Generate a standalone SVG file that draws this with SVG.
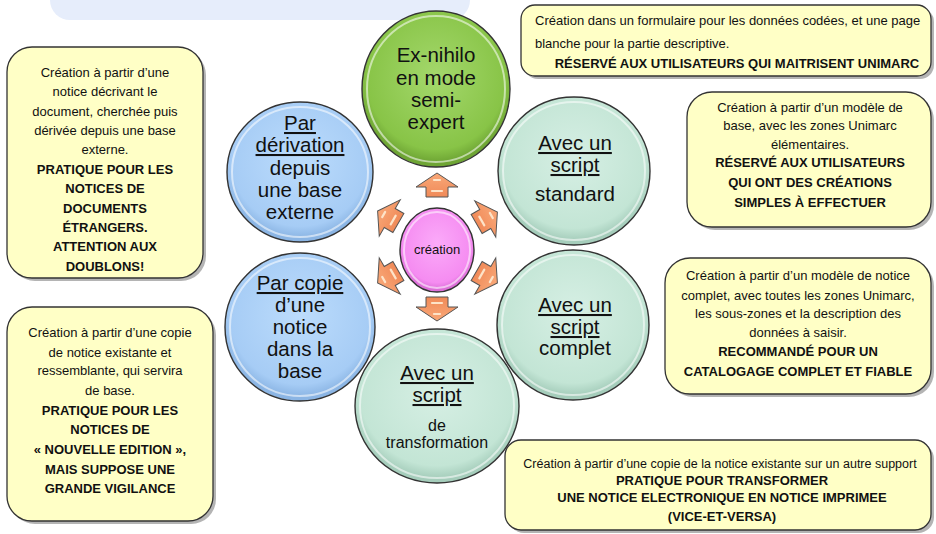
<svg xmlns="http://www.w3.org/2000/svg" width="936" height="534" viewBox="0 0 936 534">
<style>
.ct{font-family:"Liberation Sans",Arial,sans-serif;font-size:20.5px;fill:#111;text-anchor:middle}
.cs{font-size:16px}
.u{text-decoration:underline}
.bt{font-family:"Liberation Sans",Arial,sans-serif;font-size:13px;fill:#111;text-anchor:middle}
.b{font-weight:bold}
.box{fill:#ffffc6;stroke:#333;stroke-width:1.3}
.sh{fill:#777;opacity:0.55}
.circ{stroke:#333;stroke-width:1.4}
.rim{fill:none;stroke:#fff;stroke-opacity:0.55;stroke-width:2}
.arr{fill:url(#gOr);stroke:#555;stroke-width:1}
.hl{fill:none;stroke:#fde3c8;stroke-width:2.2;stroke-linecap:round}
</style>
<defs>
<radialGradient id="gGreen" cx="50%" cy="42%" r="55%"><stop offset="0" stop-color="#a4d86c"/><stop offset="0.85" stop-color="#88c447"/><stop offset="1" stop-color="#6ea534"/></radialGradient>
<radialGradient id="gBlue" cx="50%" cy="42%" r="55%"><stop offset="0" stop-color="#bcdcfc"/><stop offset="0.85" stop-color="#a6ccf5"/><stop offset="1" stop-color="#8bb5e4"/></radialGradient>
<radialGradient id="gTeal" cx="50%" cy="42%" r="55%"><stop offset="0" stop-color="#d6efe4"/><stop offset="0.85" stop-color="#c3e5d5"/><stop offset="1" stop-color="#a5cdbb"/></radialGradient>
<radialGradient id="gPink" cx="50%" cy="42%" r="55%"><stop offset="0" stop-color="#fbaaf9"/><stop offset="0.85" stop-color="#f58cf1"/><stop offset="1" stop-color="#dc6fd8"/></radialGradient>
<linearGradient id="gOr" x1="0" y1="0" x2="0" y2="1"><stop offset="0" stop-color="#f9a878"/><stop offset="1" stop-color="#f08a58"/></linearGradient>
<g id="arrowShape">
<path class="arr" d="M0,-12 L21,2 L11,2 L11,12 L-11,12 L-11,2 L-21,2 Z"/>
<path class="hl" d="M-5,6 L5,6 M-3,-5 L3,-5"/>
</g>
</defs>

<rect x="50" y="-30" width="420" height="50" rx="20" fill="#e6edfb"/>

<g id="node-derivation">
<ellipse class="circ" cx="300" cy="172" rx="73" ry="70" fill="url(#gBlue)"/>
<ellipse class="rim" cx="300" cy="172" rx="68" ry="65"/>
<text class="ct"><tspan class="u" x="300" y="130">Par</tspan><tspan class="u" x="300" y="152">dérivation</tspan><tspan x="300" y="175">depuis</tspan><tspan x="300" y="197">une base</tspan><tspan x="300" y="219">externe</tspan></text>
</g>
<g id="node-copie">
<ellipse class="circ" cx="300" cy="327" rx="75" ry="74" fill="url(#gBlue)"/>
<ellipse class="rim" cx="300" cy="327" rx="70" ry="69"/>
<text class="ct"><tspan class="u" x="300" y="290">Par copie</tspan><tspan x="300" y="312">d’une</tspan><tspan x="300" y="334">notice</tspan><tspan x="300" y="356">dans la</tspan><tspan x="300" y="378">base</tspan></text>
</g>
<g id="node-exnihilo">
<ellipse class="circ" cx="436" cy="89" rx="74" ry="78" fill="url(#gGreen)"/>
<ellipse class="rim" cx="436" cy="89" rx="69" ry="73"/>
<text class="ct"><tspan x="436" y="62">Ex-nihilo</tspan><tspan x="436" y="85">en mode</tspan><tspan x="436" y="107">semi-</tspan><tspan x="436" y="129">expert</tspan></text>
</g>
<g id="node-standard">
<ellipse class="circ" cx="574" cy="171" rx="76" ry="74" fill="url(#gTeal)"/>
<ellipse class="rim" cx="574" cy="171" rx="71" ry="69"/>
<text class="ct"><tspan class="u" x="575" y="150">Avec un</tspan><tspan class="u" x="575" y="172">script</tspan><tspan x="575" y="201">standard</tspan></text>
</g>
<g id="node-complet">
<ellipse class="circ" cx="573" cy="325" rx="76" ry="75" fill="url(#gTeal)"/>
<ellipse class="rim" cx="573" cy="325" rx="71" ry="70"/>
<text class="ct"><tspan class="u" x="575" y="312">Avec un</tspan><tspan class="u" x="575" y="334">script</tspan><tspan x="575" y="355">complet</tspan></text>
</g>
<g id="node-transformation">
<ellipse class="circ" cx="437" cy="406" rx="82" ry="77" fill="url(#gTeal)"/>
<ellipse class="rim" cx="437" cy="406" rx="77" ry="72"/>
<text class="ct"><tspan class="u" x="437" y="380">Avec un</tspan><tspan class="u" x="437" y="402">script</tspan><tspan class="cs" x="437" y="431">de</tspan><tspan class="cs" x="437" y="448">transformation</tspan></text>
</g>
<g id="node-creation">
<ellipse class="circ" cx="437" cy="250" rx="37" ry="42" fill="url(#gPink)"/>
<ellipse class="rim" cx="437" cy="250" rx="33" ry="38"/>
<text class="ct" style="font-size:13px" x="437" y="254">création</text>
</g>

<g id="connectors">
<use href="#arrowShape" transform="translate(437,185)"/>
<use href="#arrowShape" transform="translate(437,309) rotate(180)"/>
<use href="#arrowShape" transform="translate(388,217) rotate(-60)"/>
<use href="#arrowShape" transform="translate(487,218) rotate(60)"/>
<use href="#arrowShape" transform="translate(388,277) rotate(-120)"/>
<use href="#arrowShape" transform="translate(487,277) rotate(120)"/>
</g>

<g id="box-derivation">
<rect class="sh" x="10" y="50" width="196" height="231" rx="25"/>
<rect class="box" x="7" y="47" width="196" height="231" rx="25"/>
<text class="bt"><tspan x="105" y="77">Création à partir d’une</tspan><tspan x="105" y="96">notice décrivant le</tspan><tspan x="105" y="116">document, cherchée puis</tspan><tspan x="105" y="135">dérivée depuis une base</tspan><tspan x="105" y="154">externe.</tspan><tspan class="b" x="105" y="174">PRATIQUE POUR LES</tspan><tspan class="b" x="105" y="193">NOTICES DE</tspan><tspan class="b" x="105" y="213">DOCUMENTS</tspan><tspan class="b" x="105" y="232">ÉTRANGERS.</tspan><tspan class="b" x="105" y="251">ATTENTION AUX</tspan><tspan class="b" x="105" y="271">DOUBLONS!</tspan></text>
</g>
<g id="box-copie">
<rect class="sh" x="10" y="310" width="206" height="214" rx="25"/>
<rect class="box" x="7" y="307" width="206" height="214" rx="25"/>
<text class="bt"><tspan x="110" y="337">Création à partir d’une copie</tspan><tspan x="110" y="357">de notice existante et</tspan><tspan x="110" y="375">ressemblante, qui servira</tspan><tspan x="110" y="395">de base.</tspan><tspan class="b" x="110" y="415">PRATIQUE  POUR LES</tspan><tspan class="b" x="110" y="434">NOTICES DE</tspan><tspan class="b" x="110" y="454">« NOUVELLE EDITION »,</tspan><tspan class="b" x="110" y="474">MAIS SUPPOSE UNE</tspan><tspan class="b" x="110" y="493">GRANDE VIGILANCE</tspan></text>
</g>
<g id="box-exnihilo">
<rect class="sh" x="524" y="8" width="410" height="71" rx="14"/>
<rect class="box" x="521" y="5" width="410" height="71" rx="14"/>
<text class="bt" style="text-anchor:start"><tspan x="535" y="25">Création dans un formulaire pour les données codées, et une page</tspan><tspan x="535" y="48">blanche pour la partie descriptive.</tspan></text>
<text class="bt b" x="737" y="68">RÉSERVÉ AUX UTILISATEURS QUI MAITRISENT UNIMARC</text>
</g>
<g id="box-standard">
<rect class="sh" x="690" y="95" width="244" height="135" rx="25"/>
<rect class="box" x="687" y="92" width="244" height="135" rx="25"/>
<text class="bt"><tspan x="810" y="112">Création à partir d’un modèle de</tspan><tspan x="810" y="130">base, avec les zones Unimarc</tspan><tspan x="810" y="149">élémentaires.</tspan><tspan class="b" x="810" y="167">RÉSERVÉ AUX UTILISATEURS</tspan><tspan class="b" x="810" y="187">QUI ONT DES CRÉATIONS</tspan><tspan class="b" x="810" y="207">SIMPLES À EFFECTUER</tspan></text>
</g>
<g id="box-complet">
<rect class="sh" x="668" y="261" width="266" height="136" rx="25"/>
<rect class="box" x="665" y="258" width="266" height="136" rx="25"/>
<text class="bt"><tspan x="798" y="280">Création à partir d’un modèle de notice</tspan><tspan x="798" y="300">complet, avec toutes les zones Unimarc,</tspan><tspan x="798" y="318">les sous-zones et la description des</tspan><tspan x="798" y="337">données à saisir.</tspan><tspan class="b" x="798" y="356">RECOMMANDÉ POUR UN</tspan><tspan class="b" x="798" y="376">CATALOGAGE COMPLET ET FIABLE</tspan></text>
</g>
<g id="box-transformation">
<rect class="sh" x="508" y="443" width="426" height="90" rx="16"/>
<rect class="box" x="505" y="440" width="426" height="90" rx="16"/>
<text class="bt"><tspan style="font-size:12.5px" x="720" y="468">Création à partir d’une copie de la notice existante sur un autre support</tspan><tspan class="b" x="722" y="485">PRATIQUE POUR TRANSFORMER</tspan><tspan class="b" x="722" y="502">UNE NOTICE ELECTRONIQUE EN NOTICE IMPRIMEE</tspan><tspan class="b" x="722" y="521">(VICE-ET-VERSA)</tspan></text>
</g>
</svg>
